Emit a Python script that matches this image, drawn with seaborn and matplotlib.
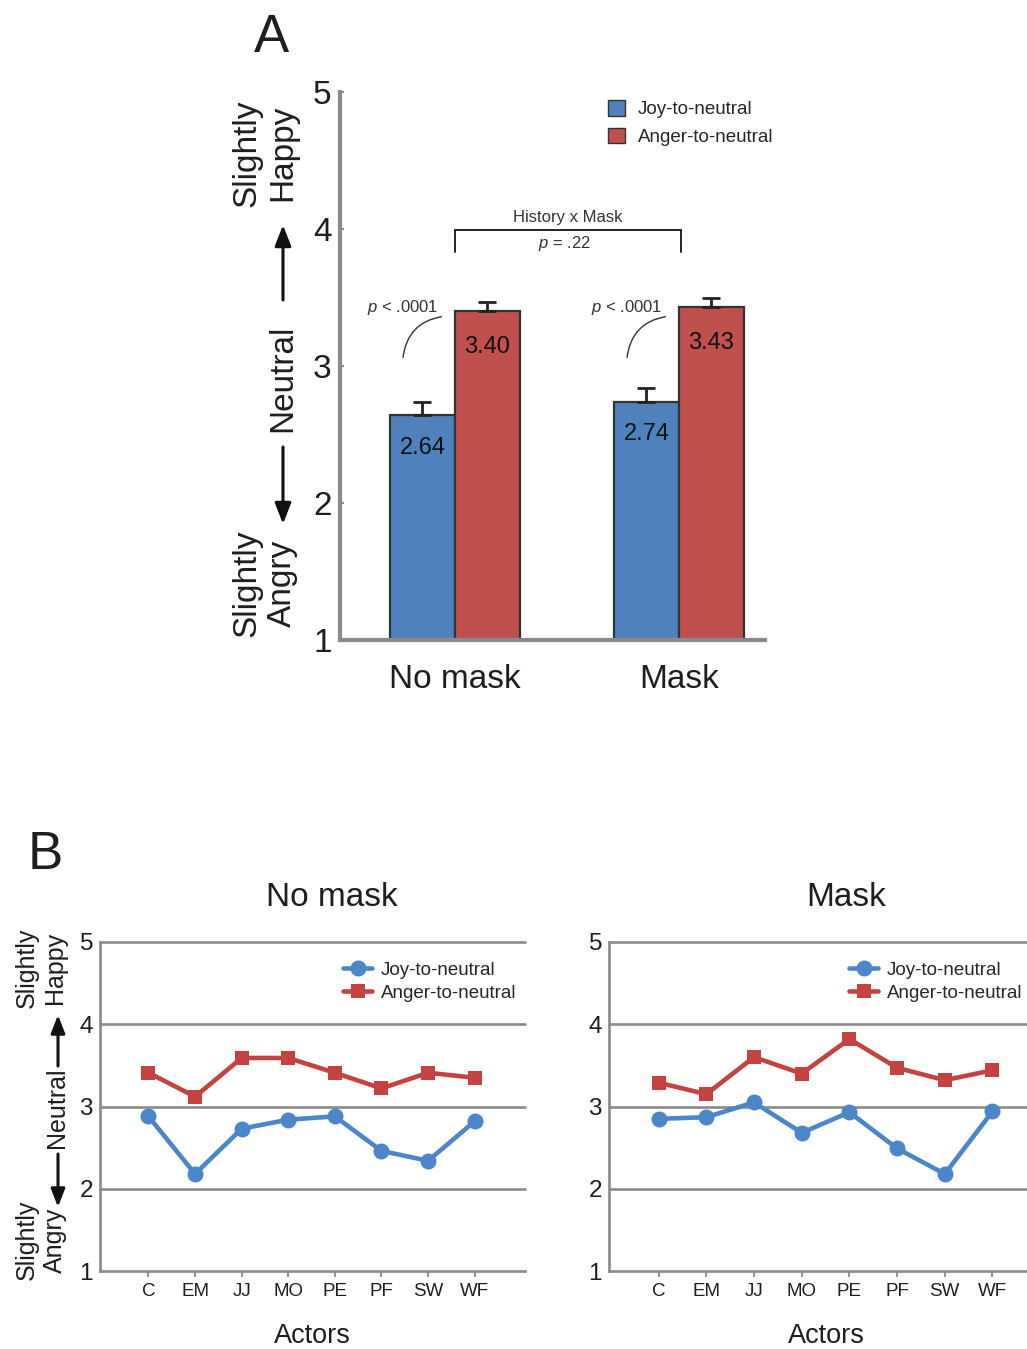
import numpy as np
import pandas as pd
import matplotlib
matplotlib.use("Agg")
import matplotlib.pyplot as plt
from matplotlib.path import Path
from matplotlib.patches import PathPatch, Patch, FancyArrowPatch
import seaborn as sns

# ---- data -------------------------------------------------------------
conditions = ["No mask", "Mask"]
series = ["Joy-to-neutral", "Anger-to-neutral"]
joy_means = [2.64, 2.74]
anger_means = [3.40, 3.43]
joy_err = [0.10, 0.10]
anger_err = [0.07, 0.07]

actors = ["C", "EM", "JJ", "MO", "PE", "PF", "SW", "WF"]
nomask_joy = [2.88, 2.18, 2.73, 2.84, 2.88, 2.46, 2.34, 2.82]
nomask_anger = [3.41, 3.12, 3.59, 3.59, 3.41, 3.22, 3.41, 3.35]
mask_joy = [2.85, 2.87, 3.05, 2.68, 2.93, 2.49, 2.18, 2.94]
mask_anger = [3.29, 3.15, 3.60, 3.40, 3.82, 3.47, 3.32, 3.44]

y_ticks = [1, 2, 3, 4, 5]

# ---- style ------------------------------------------------------------
sns.set_theme(style="white")
plt.rcParams["font.family"] = ["Liberation Sans", "DejaVu Sans"]
plt.rcParams["mathtext.fontset"] = "custom"
plt.rcParams["mathtext.it"] = "Liberation Sans:italic"
plt.rcParams["mathtext.rm"] = "Liberation Sans"

BLUE = "#4f81bd"
RED = "#c0504d"
LBLUE = "#4a86c8"
LRED = "#c4423f"
GRAY = "#8a8a8a"
INK = "#1e1e1e"

W, H = 1027, 1349
fig = plt.figure(figsize=(W / 100, H / 100), dpi=100)


def px_axes(x0, y0, x1, y1):
    return fig.add_axes([x0 / W, 1 - y1 / H, (x1 - x0) / W, (y1 - y0) / H])


def fx(x):
    return x / W


def fy(y):
    return 1 - y / H


# ---- panel A: bar chart ----------------------------------------------
axA = px_axes(340, 92, 765, 640)
bar_df = pd.DataFrame({
    "condition": conditions * 2,
    "series": [series[0]] * 2 + [series[1]] * 2,
    "rating": joy_means + anger_means,
})
sns.barplot(data=bar_df, x="condition", y="rating", hue="series",
            order=conditions, hue_order=series, palette=[BLUE, RED],
            saturation=1, width=0.58, errorbar=None, edgecolor="#333333",
            linewidth=1.6, legend=False, ax=axA)

errs = [joy_err, anger_err]
means = [joy_means, anger_means]
label_shift = [0.24, 0.26]
bar_containers = list(axA.containers)
for k, cont in enumerate(bar_containers):
    for j, bar in enumerate(cont.patches):
        xc = bar.get_x() + bar.get_width() / 2
        top = means[k][j]
        axA.errorbar([xc], [top], yerr=[[0], [errs[k][j]]], fmt="none",
                     ecolor="#222222", elinewidth=2.0, capsize=6.5,
                     capthick=2.0, zorder=1)
        axA.text(xc, top - label_shift[k], f"{top:.2f}", ha="center",
                 va="center", fontsize=17, color="#111111")

axA.set_ylim(1, 5)
axA.set_xlim(-0.513, 1.384)
axA.set_yticks(y_ticks)
axA.set_xlabel("")
axA.set_ylabel("")
for s in ["top", "right"]:
    axA.spines[s].set_visible(False)
for s in ["left", "bottom"]:
    axA.spines[s].set_color(GRAY)
    axA.spines[s].set_linewidth(3)
axA.tick_params(axis="y", direction="in", length=3, width=1.5, color=GRAY,
                labelsize=24, pad=6, labelcolor=INK, left=True)
axA.tick_params(axis="x", length=0, labelsize=24, pad=17, labelcolor=INK)

axA.legend(handles=[Patch(facecolor=BLUE, edgecolor="#333333", lw=1),
                    Patch(facecolor=RED, edgecolor="#333333", lw=1)],
           labels=series, loc="upper left", bbox_to_anchor=(0.63, 0.985),
           frameon=False, fontsize=13.5, handlelength=0.9,
           handleheight=0.9, handletextpad=0.7, labelspacing=0.5,
           borderpad=0, borderaxespad=0)

# interaction bracket
axA.plot([0, 0, 1.01, 1.01], [3.83, 3.99, 3.99, 3.83], color="#222222",
         lw=1.4, solid_joinstyle="miter", clip_on=False)
axA.text(0.505, 4.085, "History x Mask", ha="center", va="center",
         fontsize=12, color="#333333")
axA.text(0.49, 3.895, "$p$ = .22", ha="center", va="center",
         fontsize=12, color="#333333")

# pairwise comparison notes with curved leaders
for c in [0, 1]:
    axA.text(c - 0.232, 3.43, "$p$ < .0001", ha="center", va="center",
             fontsize=12, color="#333333")
    verts = [(c - 0.232, 3.06), (c - 0.212, 3.32), (c - 0.058, 3.36)]
    path = Path(verts, [Path.MOVETO, Path.CURVE3, Path.CURVE3])
    axA.add_patch(PathPatch(path, facecolor="none", edgecolor="#333333",
                            lw=1.0))

fig.text(fx(271), fy(38), "A", fontsize=38, ha="center", va="center",
         color=INK)

# side scale labels, panel A
fig.text(fx(265), fy(153), "Slightly\nHappy", rotation=90, ha="center",
         va="center", fontsize=24, color=INK, linespacing=1.2)
fig.text(fx(283), fy(378), "Neutral", rotation=90, ha="center",
         va="center", fontsize=24, color=INK)
fig.text(fx(265), fy(583), "Slightly\nAngry", rotation=90, ha="center",
         va="center", fontsize=24, color=INK, linespacing=1.2)
arrow_kw = dict(arrowstyle="-|>,head_length=0.9,head_width=0.35",
                color="#111111", lw=2.2, shrinkA=0, shrinkB=0)
fig.add_artist(FancyArrowPatch(
    (fx(283), fy(300)), (fx(283), fy(225)), transform=fig.transFigure,
    mutation_scale=14, **arrow_kw))
fig.add_artist(FancyArrowPatch(
    (fx(283), fy(447)), (fx(283), fy(524)), transform=fig.transFigure,
    mutation_scale=14, **arrow_kw))

# ---- panel B: per-actor lines ----------------------------------------
fig.text(fx(45), fy(855), "B", fontsize=38, ha="center", va="center",
         color=INK)


def actor_panel(ax, joy, anger, title, legend_x):
    df_j = pd.DataFrame({"actor": actors, "rating": joy})
    df_a = pd.DataFrame({"actor": actors, "rating": anger})
    sns.lineplot(data=df_j, x="actor", y="rating", color=LBLUE, marker="o",
                 markersize=11.5, markeredgewidth=0, linewidth=3.3,
                 label=series[0], ax=ax)
    sns.lineplot(data=df_a, x="actor", y="rating", color=LRED, marker="s",
                 markersize=10, markeredgewidth=0, linewidth=3.3,
                 label=series[1], ax=ax)
    ax.set_ylim(1, 5)
    ax.set_xlim(-1.04, 8.08)
    ax.set_yticks(y_ticks)
    for yv in [2, 3, 4, 5]:
        ax.axhline(yv, color=GRAY, lw=1.9, zorder=0, clip_on=False)
    for s in ["top", "right"]:
        ax.spines[s].set_visible(False)
    for s in ["left", "bottom"]:
        ax.spines[s].set_color(GRAY)
        ax.spines[s].set_linewidth(1.9)
    ax.tick_params(axis="y", length=0, labelsize=17.5, pad=5,
                   labelcolor=INK)
    ax.tick_params(axis="x", direction="out", length=4, width=1.3,
                   color=GRAY, bottom=True, labelsize=13.5, pad=5,
                   labelcolor=INK)
    ax.set_ylabel("")
    ax.set_xlabel("Actors", fontsize=19.5, labelpad=16, color=INK)
    ax.set_title(title, fontsize=24, x=0.545, pad=26, color=INK)
    ax.legend(loc="upper left", bbox_to_anchor=(legend_x, 0.94),
              frameon=False, fontsize=13.5, handlelength=1.55,
              handletextpad=0.45, labelspacing=0.3, borderpad=0,
              borderaxespad=0)


axL = px_axes(100, 942, 525, 1271)
actor_panel(axL, nomask_joy, nomask_anger, "No mask", 0.572)
axR = px_axes(609, 942, 1044, 1271)
actor_panel(axR, mask_joy, mask_anger, "Mask", 0.552)

# side scale labels, panel B
fig.text(fx(41), fy(968), "Slightly\nHappy", rotation=90, ha="center",
         va="center", fontsize=18, color=INK, linespacing=1.2)
fig.text(fx(57), fy(1108), "Neutral", rotation=90, ha="center",
         va="center", fontsize=18, color=INK)
fig.text(fx(41), fy(1240), "Slightly\nAngry", rotation=90, ha="center",
         va="center", fontsize=18, color=INK, linespacing=1.2)
fig.add_artist(FancyArrowPatch(
    (fx(58), fy(1066)), (fx(58), fy(1015)), transform=fig.transFigure,
    mutation_scale=12, **arrow_kw))
fig.add_artist(FancyArrowPatch(
    (fx(58), fy(1154)), (fx(58), fy(1207)), transform=fig.transFigure,
    mutation_scale=12, **arrow_kw))

fig.savefig("out.png", dpi=100)
